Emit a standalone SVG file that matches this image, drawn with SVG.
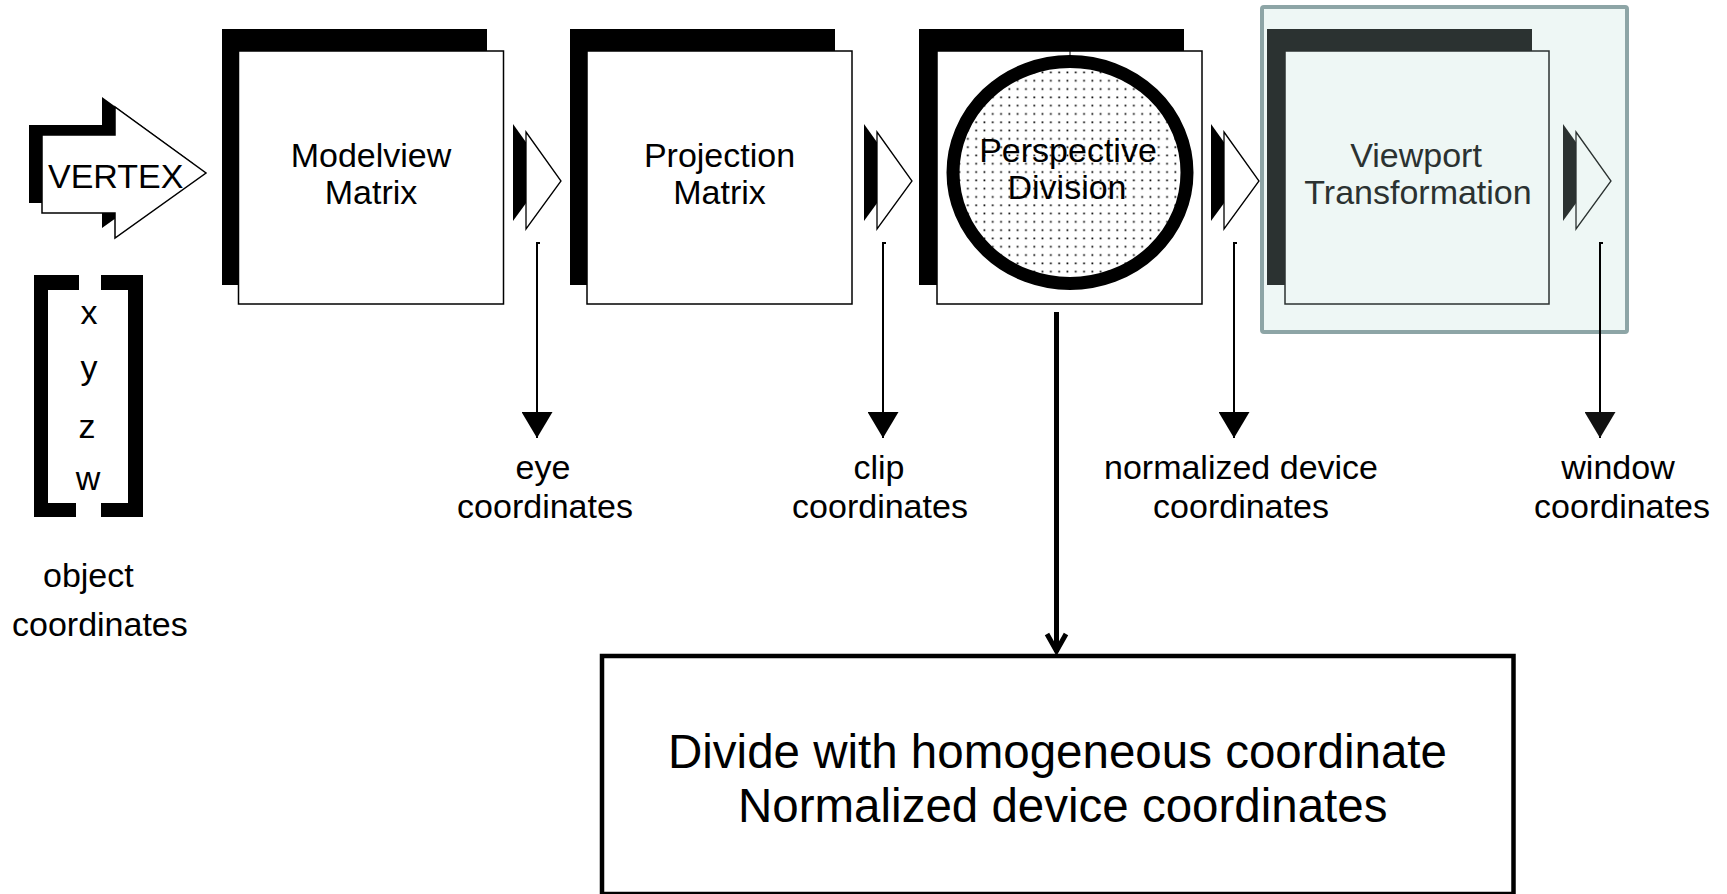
<svg xmlns="http://www.w3.org/2000/svg" xmlns:xlink="http://www.w3.org/1999/xlink" width="1727" height="894" viewBox="0 0 1727 894">
  <style>
    .t { font-family: "Liberation Sans", Arial, sans-serif; font-size: 34px; fill: #000; }
    .c { text-anchor: middle; }
    .big { font-size: 47.5px; }
    .sh { fill: #000; }
    .fr { fill: #fff; stroke: #000; stroke-width: 1.5; }
    .vp-sh { fill: #2b3231; }
    .vp-fr { fill: #eef7f5; stroke: #2b3231; stroke-width: 1.5; }
    .vp-t { fill: #2b3231; }
    .dl { fill: none; stroke: #000; stroke-width: 2; }
  </style>
  <defs>
    <pattern id="dots" width="8.3" height="8.3" patternUnits="userSpaceOnUse" x="1" y="2">
      <rect width="8.3" height="8.3" fill="#fff"/>
      <rect x="3.2" y="3.2" width="1.7" height="1.7" fill="#000"/>
    </pattern>
    <g id="fa">
      <polygon points="-13,-8 22,41 -13,89" fill="currentColor"/>
      <polygon points="0,0 35,49 0,97" stroke="currentColor" stroke-width="1.3"/>
    </g>
    <marker id="head" viewBox="0 0 26 31" refX="26" refY="15.5" markerWidth="26" markerHeight="31" markerUnits="userSpaceOnUse" orient="auto">
      <path d="M0,0 L26,15.5 L0,31 z" fill="#000"/>
    </marker>
    <marker id="headg" viewBox="0 0 26 31" refX="26" refY="15.5" markerWidth="26" markerHeight="31" markerUnits="userSpaceOnUse" orient="auto">
      <path d="M0,0 L26,15.5 L0,31 z" fill="#111"/>
    </marker>
  </defs>

  <rect width="1727" height="894" fill="#fff"/>

  <!-- Viewport highlight frame -->
  <rect x="1262" y="7" width="365" height="325" rx="2" fill="#eef7f5" stroke="#8da5a6" stroke-width="4"/>

  <!-- VERTEX input arrow -->
  <g id="vertex">
    <polygon class="sh" points="29,125 102,125 102,97 193,163 102,228 102,203 29,203"/>
    <polygon class="fr" points="42,135 115,135 115,107 206,173 115,238 115,213 42,213"/>
    <text class="t" x="48" y="188">VERTEX</text>
  </g>

  <!-- object coordinates vector -->
  <g id="object-vector">
    <path d="M34,275 H79 V290 H48 V503 H76 V517 H34 Z" fill="#000"/>
    <path d="M101,275 H143 V517 H101 V503 H128 V290 H101 Z" fill="#000"/>
    <text class="t c" x="89" y="324">x</text>
    <text class="t c" x="89" y="379">y</text>
    <text class="t c" x="87" y="438">z</text>
    <text class="t c" x="88" y="490">w</text>
    <text class="t" x="43" y="587">object</text>
    <text class="t" x="12" y="636">coordinates</text>
  </g>

  <!-- Modelview Matrix -->
  <g id="modelview">
    <rect class="sh" x="222" y="29" width="265" height="256"/>
    <rect class="fr" x="238.5" y="51" width="265" height="253"/>
    <text class="t c" x="371" y="167">Modelview</text>
    <text class="t c" x="371" y="204">Matrix</text>
  </g>

  <!-- Projection Matrix -->
  <g id="projection">
    <rect class="sh" x="570" y="29" width="265" height="256"/>
    <rect class="fr" x="587" y="51" width="265" height="253"/>
    <text class="t c" x="719.5" y="167">Projection</text>
    <text class="t c" x="719.5" y="204">Matrix</text>
  </g>

  <!-- Perspective Division -->
  <g id="perspective">
    <rect class="sh" x="919" y="29" width="265" height="256"/>
    <rect class="fr" x="937" y="51" width="265" height="253"/>
    <line x1="1070" y1="51" x2="1070" y2="57" stroke="#000" stroke-width="1"/>
    <ellipse cx="1070" cy="172.5" rx="117" ry="111" fill="url(#dots)" stroke="#000" stroke-width="13"/>
    <text class="t c" x="1068" y="162">Perspective</text>
    <text class="t c" x="1067" y="198.5">Division</text>
  </g>

  <!-- Viewport Transformation -->
  <g id="viewport">
    <rect class="vp-sh" x="1267" y="29" width="265" height="256"/>
    <rect class="vp-fr" x="1285" y="51" width="264" height="253"/>
    <text class="t c vp-t" x="1416" y="167">Viewport</text>
    <text class="t c vp-t" x="1418" y="204">Transformation</text>
  </g>

  <!-- Flow arrows between stages -->
  <g id="flow-arrows">
    <use xlink:href="#fa" href="#fa" x="526" y="132" style="color:#000; fill:#fff"/>
    <use xlink:href="#fa" href="#fa" x="877" y="132" style="color:#000; fill:#fff"/>
    <use xlink:href="#fa" href="#fa" x="1224" y="132" style="color:#000; fill:#fff"/>
    <use xlink:href="#fa" href="#fa" x="1576" y="132" style="color:#2b3231; fill:#eef7f5"/>
  </g>

  <!-- Connectors -->
  <g id="connectors">
    <path class="dl" d="M540,243 H537 V438" marker-end="url(#head)"/>
    <path class="dl" d="M886,243 H883 V438" marker-end="url(#head)"/>
    <path class="dl" d="M1237,243 H1234 V438" marker-end="url(#head)"/>
    <path class="dl" d="M1603,243 H1600 V438" stroke="#222" marker-end="url(#headg)"/>
    <line x1="1056.5" y1="312" x2="1056.5" y2="652" stroke="#000" stroke-width="5"/>
    <polyline points="1047,634 1056.5,651 1066,634" fill="none" stroke="#000" stroke-width="5" stroke-linejoin="miter"/>
  </g>

  <!-- Coordinate labels -->
  <g id="labels">
    <text class="t c" x="543" y="479">eye</text>
    <text class="t c" x="545" y="518">coordinates</text>
    <text class="t c" x="879" y="479">clip</text>
    <text class="t c" x="880" y="518">coordinates</text>
    <text class="t c" x="1241" y="479">normalized device</text>
    <text class="t c" x="1241" y="518">coordinates</text>
    <text class="t c" x="1618" y="479">window</text>
    <text class="t c" x="1622" y="518">coordinates</text>
  </g>

  <!-- Explanation box -->
  <g id="note">
    <rect x="602" y="656" width="911.5" height="238" fill="#fff" stroke="#000" stroke-width="4.5"/>
    <text class="t big" x="668" y="768">Divide with homogeneous coordinate</text>
    <text class="t big" x="738" y="821.5">Normalized device coordinates</text>
  </g>
</svg>
